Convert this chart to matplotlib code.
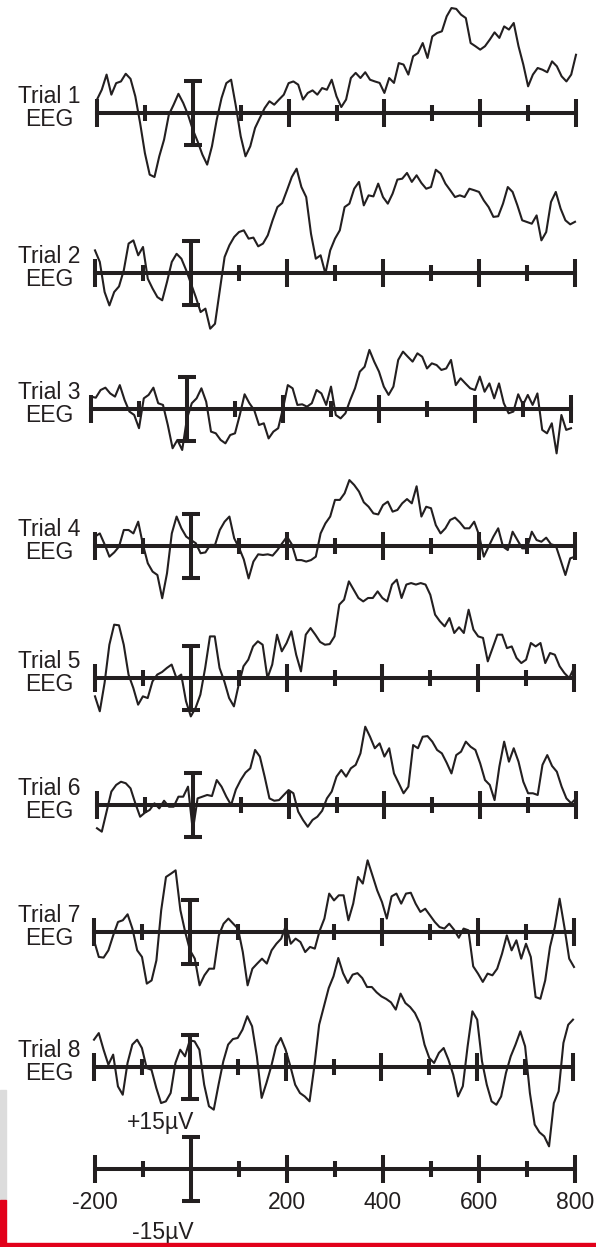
import numpy as np
import matplotlib.pyplot as plt
from matplotlib.patches import Rectangle

plt.rcParams['font.family'] = ['Liberation Sans', 'DejaVu Sans']

# time axis of every trial (ms), one sample per 10 ms
t_ms = np.arange(-200, 801, 10)

# single-trial EEG amplitudes (microvolts, positive up)
trial_1 = [6.3, 10.9, 18, 8.6, 14, 14.8, 18.4, 16, 7.8, -4.7,
           -18.8, -28.9, -30, -20.3, -12.5, -0.8, 3.9, 9, 4.7, -0.8,
           -7.8, -13.3, -19.5, -24.2, -15.6, -3.1, 7, 14, 15.6, 3.1,
           -10.9, -20.3, -15.6, -7, -2.3, 2.3, 5.5, 3.9, 6.3, 8.6,
           14, 14.8, 13.3, 6.3, 9.4, 10.6, 8.6, 11.7, 10.9, 15.6,
           7.8, 2.8, 6.3, 16.4, 18.8, 16.4, 19.1, 15.6, 14.8, 14.1,
           9.4, 16.4, 14.1, 23.4, 22.7, 18, 26.6, 28.1, 32.8, 25.8,
           35.9, 37.5, 38.3, 45.3, 49.2, 48.8, 46.1, 44.5, 32.8, 31.3,
           29.7, 31.3, 34.4, 37.8, 35.2, 40.6, 39.1, 42.2, 31.3, 22.7,
           12.5, 18, 21.1, 20.3, 19.1, 24.2, 21.9, 17.2, 14.8, 18,
           27.3]
trial_2 = [10.6, 5.2, -8.9, -15.2, -8.9, -6.3, 1.3, 13.8, 15.3, 8.3,
           12.2, -2.7, -7.3, -11.3, -12.8, -4.2, 5.2, 9, 6.7, 1.3,
           -5, -11.3, -18.3, -16.7, -26.1, -23.8, -8.1, 7.5, 13, 16.9,
           19.2, 20, 16.1, 16.6, 12.5, 13.8, 17.7, 24.7, 30.9, 32.8,
           38.8, 45, 48.9, 40.3, 35.6, 18.4, 6.7, 8.3, -0.3, 10.6,
           16.1, 20, 30.9, 32.5, 39.5, 42.7, 31.7, 36.4, 35.9, 41.9,
           35.6, 32.5, 37.2, 43.8, 44.2, 46.9, 42.7, 45.8, 42.2, 39.5,
           40.3, 48.4, 46.6, 41.9, 38.8, 35.6, 36.4, 35.6, 39.5, 38.8,
           38, 34, 30.9, 26.3, 26.6, 32.5, 40.3, 38, 31.7, 24.7,
           23.9, 23.1, 27, 15.3, 19.2, 33.3, 38, 30.2, 24.7, 22.8,
           24]
trial_3 = [5.8, 5.3, 8.9, 10, 7.3, 5.8, 11.2, 4.2, -1.2, -2.8,
           -9, 5, 6.6, 10, 2.7, 1.9, -7.5, -18.4, -14.5, -19.2,
           -4.4, 2.7, 5, 9.7, 3.4, -10.6, -11.4, -14.5, -16.1, -12.2,
           -11.4, -2.8, 6.9, 2.7, -0.5, -7.5, -6.7, -13.8, -10.6, -9,
           0.3, 11.2, 9.7, 1.9, 2.2, 1.1, 2.7, 8.9, 7.3, 1.9,
           10.5, -2.8, -4.4, -2, 4.2, 9.7, 17.5, 19.8, 27.7, 22.2,
           17.5, 10.5, 6.6, 10.5, 23, 26.9, 24.5, 22.2, 26.1, 24.5,
           19, 21.4, 20.6, 18.3, 19, 23, 11.2, 14.4, 12, 9.7,
           8.9, 15.2, 8.1, 12, 5, 12, 2.7, -2, -1.2, 6.9,
           1.9, 6.6, 1.9, 7.3, -9.8, -11.4, -6.7, -20.8, -2.8, -9.8,
           -9]
trial_4 = [4.4, 5.9, 0.8, -5, -3, -0.3, 7.5, 7.5, 5.9, 11.4,
           0.5, -8.1, -12, -13.6, -24.5, -12.8, 5.9, 13.8, 8.3, 4.4,
           2.8, 1.3, -3.4, -3, 0.5, 0.5, 7.5, 11.4, 13.8, 3.6,
           -0.8, -6.3, -15.2, -7.3, -3.9, -4.2, -3.9, -4.5, -1.9, 1.3,
           4.4, 0.8, -6.6, -6.6, -7.3, -6.6, -5, 5.9, 10.6, 13.8,
           21.6, 21.6, 24.7, 30.9, 28.6, 25.5, 20.5, 18.4, 15.3, 14.8,
           19.2, 20.8, 16.1, 16.9, 20, 22, 20, 28, 13.8, 18.4,
           17.7, 9.8, 5.9, 8.3, 12.2, 13.3, 11.1, 8.3, 8.3, 11.4,
           5.2, -5, -0.3, 4.4, 8.3, -0.3, -1.9, 6.7, 2.8, -1.1,
           -1.1, 6.7, 2.8, 2, 3.9, 0.8, 0.2, -6.6, -13.6, -5.8,
           -5]
trial_5 = [-8.6, -15.6, -2.3, 15.6, 25, 24.7, 15.6, 1.6, -4.7, -12.5,
           -8.6, -9.4, -1.6, 1.6, 2.8, 4.7, 6.3, 0, 1.6, -10.9,
           -18, -14, -7.8, 4.7, 19.5, 19.5, 4.7, -1.6, -9.4, -13.3,
           -3.1, 5.5, 8.6, 14.8, 17.2, 15.6, 0, 6.3, 20.3, 12.5,
           16.4, 21.9, 10.9, 3.1, 20.3, 23.4, 20.3, 16.9, 15.6, 15.9,
           19.5, 34.4, 36.7, 45.3, 41.4, 37.5, 35.9, 37.5, 37.5, 40.6,
           37.5, 35.9, 43.8, 46.1, 37.5, 43.8, 44.5, 43.8, 44.5, 43.8,
           39, 29.7, 26.6, 24.2, 28.1, 21.1, 23.8, 21.1, 32, 22.7,
           19.5, 18.8, 7.8, 14, 20.3, 20.3, 14, 14.8, 9.4, 7,
           8.6, 16.4, 14.8, 16.4, 7, 11.7, 10.9, 5.5, 2.3, 0,
           4.7]
trial_6 = [-10.9, -12.5, -3.1, 6.3, 9.4, 10.9, 10.2, 7.8, 0.8, -5.5,
           -3.6, -2.3, 0.8, -1.6, 2, -0.8, -0.8, 3.9, 3.9, 8.6,
           -12, 3.1, 3.9, 4.7, 4.2, 11.7, 8.6, 3.9, 0, 7.3,
           11.7, 15.2, 17.2, 25.8, 22.7, 13.3, 3.1, 2, 2.3, 4.7,
           7, 5.5, -3.1, -7, -10.2, -7, -5.5, -2.7, 3.1, 6.3,
           13.3, 16.4, 13.3, 17.2, 18.8, 24.2, 36.7, 32, 26.6, 28.9,
           22.7, 26.6, 14.8, 10.2, 5.5, 8.6, 28.1, 26.6, 32, 32.3,
           29.7, 25.8, 24.2, 19.8, 14.8, 23.4, 25, 29.7, 27.3, 25.8,
           19.5, 11.7, 9.4, 2.3, 18, 29.7, 20.3, 26.6, 20.3, 10.9,
           5.5, 5.5, 4.7, 18.8, 23.4, 18.3, 15.6, 8.6, 3.1, 0.8,
           3]
trial_7 = [-3.9, -11.7, -12, -8.6, -1.6, 4.7, 5.5, 8.3, 1.6, -8.6,
           -11.7, -24.2, -22.7, -13.3, 10.2, 25.8, 27.3, 28.9, 10.2, 0,
           -8.6, -12.5, -25, -20.3, -17.2, -17.2, -1.6, 3.9, 6.3, 3.9,
           1.6, -9.4, -25, -17.2, -14.8, -12.5, -14.8, -8.6, -5.5, -3.1,
           3.1, -5.5, -3.1, -4.7, -9.4, -7, -7.8, 0.5, 6.3, 18,
           14.8, 17.2, 17.2, 5.5, 13.3, 25.8, 22.7, 33.6, 26.6, 19.5,
           14, 6.3, 16.7, 18, 13.3, 18, 18.4, 13.3, 9.4, 10.9,
           7.8, 4.7, 2.3, 1.6, 3.9, 1.1, -2.7, 1.6, 0.8, -16.1,
           -19.5, -23.4, -19.5, -20.3, -17.2, -10.2, -1.6, -8.6, -3.9, -12.5,
           -5.5, -11.7, -30.5, -31.3, -22.7, -7, 2.3, 15.6, 2.3, -12.5,
           -16.4]
trial_8 = [12.8, 15.9, 8.1, 1.1, 5.8, -9.1, -13, 1.9, 10.5, 12.8,
           8.9, -0.5, -1.3, -9.8, -16.9, -16.1, -12.2, 1.9, 8.1, 5,
           12.5, 12, 8.1, -8.3, -18.4, -20, -8.3, 2.7, 10.5, 13.1,
           13.6, 17.5, 23.8, 19.1, 5, -14.5, -7.5, 0.3, 9.7, 13.6,
           8.1, 0.3, -8.3, -12.2, -13.8, -16.1, 0.3, 19.8, 28.4, 37,
           42.5, 51.1, 44, 39.4, 43.3, 44, 41.7, 37.5, 37.5, 35,
           33.1, 31.9, 30.3, 26.9, 34.4, 30, 28.1, 25.3, 20.6, 10.5,
           4.2, 1.9, 6.6, 8.9, 3.4, -3.6, -13.8, -9, 9.7, 26.1,
           22.2, 2.7, -8.3, -16.1, -17.7, -13.8, -2.8, 5, 10.5, 16.7,
           9.7, -12.2, -27, -30.6, -32.5, -37.2, -16.9, -11.4, 11.3, 19.8,
           22.2]

trials = [trial_1, trial_2, trial_3, trial_4, trial_5, trial_6, trial_7, trial_8]
trial_labels = ["Trial %d\nEEG" % (i + 1) for i in range(8)]

major_ticks = [-200, 200, 400, 600, 800]
minor_ticks = [-100, 100, 300, 500, 700]
scale_uv = 15
scale_tick_labels = ["-200", "200", "400", "600", "800"]

# layout, in pixels of the 596 x 1247 picture: baseline y, left x, right x
W, H = 596, 1247
rows = [(113, 97, 576), (273, 95, 575), (409, 91, 571), (546, 95, 575),
        (678, 95, 574), (805, 97, 576), (932, 94, 574), (1067, 94, 573)]
scale_row = (1169, 95, 575)

ink = '#231f20'
px_per_uv = 32 / 15.0
band = 300  # px height of every axes
lw_axis = 2.9


def add_row(base_y, x0, x1):
    ax = fig.add_axes([x0 / W, (H - base_y - band / 2) / H, (x1 - x0) / W, band / H])
    half = band / 2 / px_per_uv
    ax.set_xlim(-200, 800)
    ax.set_ylim(-half, half)
    ax.patch.set_visible(False)
    for s in ['top', 'right', 'left']:
        ax.spines[s].set_visible(False)
    ax.spines['bottom'].set_position(('data', 0))
    ax.spines['bottom'].set_linewidth(lw_axis)
    ax.spines['bottom'].set_color(ink)
    ax.set_yticks([])
    ax.set_xticks(major_ticks)
    ax.set_xticks(minor_ticks, minor=True)
    ax.tick_params(axis='x', which='major', direction='inout', length=19.5,
                   width=lw_axis, color=ink, labelbottom=False)
    ax.tick_params(axis='x', which='minor', direction='inout', length=11.5,
                   width=lw_axis, color=ink)
    # +/-15 uV calibration bar at stimulus onset
    ax.errorbar([0], [0], yerr=[scale_uv], fmt='none', ecolor=ink,
                elinewidth=lw_axis, capsize=6.5, capthick=lw_axis)
    return ax


fig = plt.figure(figsize=(W / 100, H / 100), dpi=100)

for (base_y, x0, x1), values, label in zip(rows, trials, trial_labels):
    ax = add_row(base_y, x0, x1)
    ax.plot(t_ms, values, color=ink, lw=1.5, clip_on=False)
    fig.text(49 / W, 1 - (base_y - 5) / H, label, ha='center', va='center',
             fontsize=16.5, linespacing=1.0, color=ink)

# scale axis at the bottom
ax = add_row(*scale_row)
ax.set_xticks(major_ticks, labels=scale_tick_labels)
ax.tick_params(axis='x', which='major', labelbottom=True, labelsize=16.5,
               pad=6, labelcolor=ink)
ax.text(6, 22, "+15\u00b5V", ha='right', va='center', fontsize=16.5, color=ink)
ax.text(6, -30, "-15\u00b5V", ha='right', va='center', fontsize=16.5, color=ink)

# slide frame remnants at the bottom/left edge
fig.patches.append(Rectangle((0, 1 - 1200 / H), 6 / W, 110 / H,
                             transform=fig.transFigure, color='#dcdcdc', zorder=0))
fig.patches.append(Rectangle((0, 0), 6 / W, 47 / H,
                             transform=fig.transFigure, color='#e2001a', zorder=0))
fig.patches.append(Rectangle((0, 0), 1, 4 / H,
                             transform=fig.transFigure, color='#e2001a', zorder=0))

fig.savefig('out.png', dpi=100)
